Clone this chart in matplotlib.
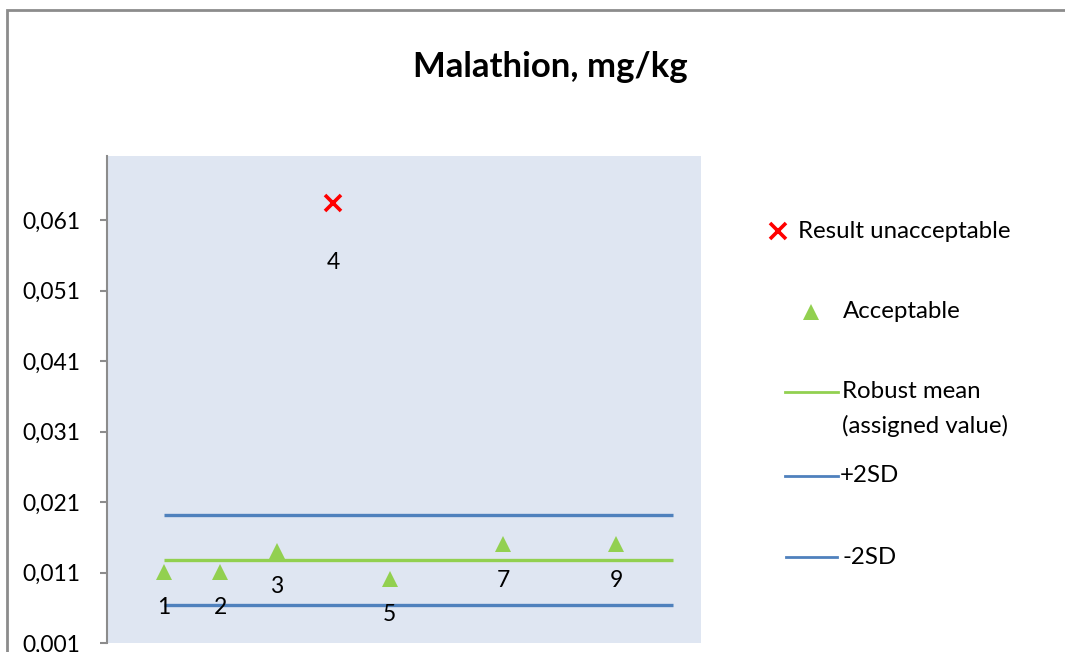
import matplotlib
matplotlib.use("Agg")
import matplotlib.pyplot as plt
from matplotlib.lines import Line2D
from matplotlib.patches import Rectangle

plt.rcParams['font.family'] = ['Lato', 'DejaVu Sans']

# lab codes and results, mg/kg
acc_labs = [1, 2, 3, 5, 7, 9]
acc_vals = [0.0111, 0.0111, 0.0141, 0.0101, 0.0150, 0.0150]
bad_labs = [4]
bad_vals = [0.0634]

line_x = [1, 10]
robust_mean = 0.0128
plus_2sd = 0.0191
minus_2sd = 0.0064

y_ticks = [0.001, 0.011, 0.021, 0.031, 0.041, 0.051, 0.061]
y_labels = ['0,001', '0,011', '0,021', '0,031', '0,041', '0,051', '0,061']

GREEN = '#92D050'
BLUE = '#4F81BD'
RED = '#FF0000'
FS = 16.5
LEG_FS = 17.3

W, H = 1065, 652
fig = plt.figure(figsize=(W / 100, H / 100), dpi=100)


def fx(px):
    return px / W


def fy(py):
    return 1 - py / H


# outer chart border (runs off the right and bottom edges)
fig.patches.append(Rectangle((fx(7), fy(1000)), 2, fy(9.5) - fy(1000),
                             transform=fig.transFigure, fill=False,
                             edgecolor='#8C8C8C', linewidth=2))

ax = fig.add_axes([fx(107), fy(643), fx(701) - fx(107), fy(156) - fy(643)])
ax.set_facecolor('#DFE6F2')
ax.set_xlim(0, 10.5)
ax.set_ylim(0.001, 0.0701)

ax.plot(line_x, [plus_2sd] * 2, color=BLUE, lw=2.4, solid_capstyle='butt')
ax.plot(line_x, [minus_2sd] * 2, color=BLUE, lw=2.4, solid_capstyle='butt')
ax.plot(line_x, [robust_mean] * 2, color=GREEN, lw=2.4, solid_capstyle='butt')

ax.plot(acc_labs, acc_vals, linestyle='none', marker='^', ms=11.5,
        color=GREEN, markeredgewidth=0)
ax.plot(bad_labs, bad_vals, linestyle='none', marker='x', ms=12,
        color=RED, markeredgewidth=2.6)

for x, y in zip(acc_labs, acc_vals):
    ax.annotate(str(x), (x, y), xytext=(0, -26), textcoords='offset points',
                ha='center', va='center', fontsize=FS)
for x, y in zip(bad_labs, bad_vals):
    ax.annotate(str(x), (x, y), xytext=(0, -42.5), textcoords='offset points',
                ha='center', va='center', fontsize=FS)

ax.set_yticks(y_ticks)
ax.set_yticklabels(y_labels, fontsize=FS)
ax.set_xticks([])
ax.tick_params(axis='y', direction='out', length=5, width=1.5,
               color='#8C8C8C', pad=14)
for side in ['top', 'right', 'bottom']:
    ax.spines[side].set_visible(False)
ax.spines['left'].set_color('#8C8C8C')
ax.spines['left'].set_linewidth(1.5)

fig.text(fx(550), fy(67), 'Malathion, mg/kg', ha='center', va='center',
         fontsize=25, fontweight='bold')

# legend, drawn in figure pixels to follow the original layout
fig.add_artist(Line2D([fx(778)], [fy(231)], marker='x', ms=11, color=RED,
                      markeredgewidth=2.6, transform=fig.transFigure))
fig.text(fx(798), fy(231), 'Result unacceptable', va='center', fontsize=LEG_FS)
fig.add_artist(Line2D([fx(811)], [fy(312)], marker='^', ms=11.5, color=GREEN,
                      markeredgewidth=0, transform=fig.transFigure))
fig.text(fx(843), fy(312), 'Acceptable', va='center', fontsize=LEG_FS)
fig.add_artist(Line2D([fx(785), fx(838)], [fy(392)] * 2, color=GREEN, lw=2,
                      transform=fig.transFigure))
fig.text(fx(842), fy(392), 'Robust mean', va='center', fontsize=LEG_FS)
fig.text(fx(842), fy(426), '(assigned value)', va='center', fontsize=LEG_FS)
fig.add_artist(Line2D([fx(785), fx(838)], [fy(476)] * 2, color=BLUE, lw=2,
                      transform=fig.transFigure))
fig.text(fx(840), fy(476), '+2SD', va='center', fontsize=LEG_FS)
fig.add_artist(Line2D([fx(786), fx(837)], [fy(557)] * 2, color=BLUE, lw=2,
                      transform=fig.transFigure))
fig.text(fx(842), fy(557), '-2SD', va='center', fontsize=LEG_FS)

fig.savefig('out.png', dpi=100)
